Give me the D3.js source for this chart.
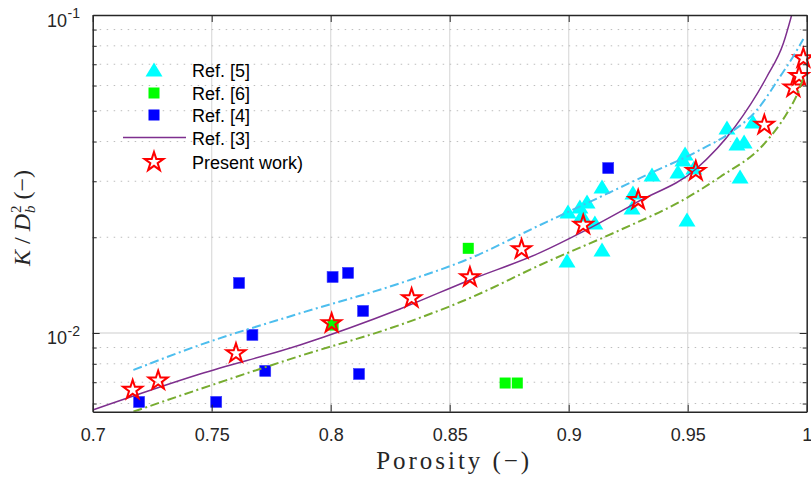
<!DOCTYPE html>
<html lang="en">
<head>
<meta charset="UTF-8">
<title>Permeability versus porosity</title>
<script src="https://d3js.org/d3.v7.min.js"></script>
<style>
  body { margin: 0; background: #fff; }
  svg { display: block; font-family: "Liberation Sans", Arial, sans-serif; }
  .tick text { fill: #262626; font-size: 18px; font-family: "Liberation Sans", Arial, sans-serif; }
  .tick line, .domain { stroke: #262626; }
</style>
</head>
<body>
<svg id="canvas" width="811" height="479"></svg>
<script>
// values: [porosity, K/Db^2]
const ref5 = [
    [0.8993, 0.01684], [0.8997, 0.02401], [0.9047, 0.02489], [0.9077, 0.02582],
    [0.9056, 0.02350], [0.9110, 0.02218], [0.9140, 0.02877], [0.9140, 0.01824],
    [0.9270, 0.02756], [0.9266, 0.02472], [0.9350, 0.03140], [0.9459, 0.03208],
    [0.9489, 0.03656], [0.9480, 0.03500], [0.9497, 0.02266], [0.9526, 0.03302],
    [0.9665, 0.04413], [0.9707, 0.03928], [0.9737, 0.03986], [0.9774, 0.04607],
    [0.9720, 0.03095]
];
const ref6 = [
    [0.8010, 0.01059], [0.8578, 0.01846], [0.8733, 0.00696], [0.8784, 0.00696]
];
const ref4 = [
    [0.7195, 0.00607], [0.7615, 0.01436], [0.7671, 0.00986], [0.7725, 0.00760],
    [0.7519, 0.00607], [0.8008, 0.01500], [0.8073, 0.01545], [0.8136, 0.01173],
    [0.8119, 0.00743], [0.9166, 0.03300]
];
const ref3 = [
    [0.7000, 0.005727], [0.7451, 0.007431], [0.7871, 0.009170], [0.8291, 0.01190],
    [0.8585, 0.01468], [0.8880, 0.01789], [0.9060, 0.02083], [0.9291, 0.02587],
    [0.9535, 0.03280], [0.9699, 0.04454], [0.9832, 0.06383], [0.9902, 0.08147],
    [0.9937, 0.1]
];
const present = [
    [0.7168, 0.00662], [0.7275, 0.00708], [0.7602, 0.00863], [0.8004, 0.01073],
    [0.8340, 0.01286], [0.8585, 0.01497], [0.8802, 0.01834], [0.9061, 0.02187],
    [0.9292, 0.02619], [0.9534, 0.03230], [0.9822, 0.04510], [0.9944, 0.05910],
    [0.9968, 0.06430], [0.9986, 0.07310]
];
// dash-dot bounds (not in legend)
const upperBound = [
    [0.7171, 0.007650], [0.7451, 0.009170], [0.7871, 0.01153], [0.8291, 0.01433],
    [0.8585, 0.01717], [0.8880, 0.02186], [0.9132, 0.02677], [0.9342, 0.03177],
    [0.9551, 0.03761], [0.9690, 0.04317], [0.9791, 0.05026], [0.9887, 0.06383],
    [0.9942, 0.07377], [0.9986, 0.08406]
];
const lowerBound = [
    [0.7171, 0.005656], [0.7451, 0.006667], [0.7871, 0.008468], [0.8291, 0.01060],
    [0.8585, 0.01288], [0.8880, 0.01636], [0.9216, 0.02108], [0.9481, 0.02620],
    [0.9636, 0.03095], [0.9817, 0.03902], [0.9888, 0.04542], [0.9930, 0.05099],
    [0.9959, 0.05603], [0.9985, 0.06323]
];

const xTicks = [0.7, 0.75, 0.8, 0.85, 0.9, 0.95, 1];
const xTickLabels = ["0.7", "0.75", "0.8", "0.85", "0.9", "0.95", "1"];
const yTicks = [0.01, 0.1];
const yTickExps = ["-2", "-1"];
const yMinor = [0.006, 0.007, 0.008, 0.009, 0.02, 0.03, 0.04, 0.05, 0.06, 0.07, 0.08, 0.09];
const legendNames = ["Ref. [5]", "Ref. [6]", "Ref. [4]", "Ref. [3]", "Present work)"];

const svg = d3.select("#canvas");
const pLeft = 92.7, pRight = 806.7, pTop = 15, pBottom = 411.7;

const x = d3.scaleLinear().domain([0.7, 1]).range([pLeft, pRight]);
const y = d3.scaleLog().domain([0.005655, 0.1]).range([pBottom, pTop]);

svg.append("defs").append("clipPath").attr("id", "plotClip")
    .append("rect").attr("x", pLeft).attr("y", pTop)
    .attr("width", pRight - pLeft).attr("height", pBottom - pTop);

// grid
const grid = svg.append("g");
grid.selectAll(".vg").data(xTicks.slice(1, -1)).enter().append("line")
    .attr("x1", d => x(d)).attr("x2", d => x(d))
    .attr("y1", pTop).attr("y2", pBottom)
    .attr("stroke", "#dedede").attr("stroke-width", 1.3);
grid.append("line")
    .attr("x1", pLeft).attr("x2", pRight).attr("y1", y(0.01)).attr("y2", y(0.01))
    .attr("stroke", "#dedede").attr("stroke-width", 1.3);
grid.selectAll(".hg").data(yMinor).enter().append("line")
    .attr("x1", pLeft).attr("x2", pRight)
    .attr("y1", d => y(d)).attr("y2", d => y(d))
    .attr("stroke", "#bdbdbd").attr("stroke-width", 1)
    .attr("stroke-dasharray", "1.5,5.5");

// marker shapes
function starPath(R) {
    const r = R * 0.382;
    let p = [];
    for (let i = 0; i < 10; i++) {
        const a = -Math.PI / 2 + i * Math.PI / 5;
        const rr = i % 2 === 0 ? R : r;
        p.push([rr * Math.cos(a), rr * Math.sin(a)]);
    }
    return "M" + p.map(d => d.join(",")).join("L") + "Z";
}
const triPath = "M0,-7.5L8.5,6.5L-8.5,6.5Z";

const plot = svg.append("g");

plot.selectAll(".tri").data(ref5).enter().append("path")
    .attr("d", triPath)
    .attr("transform", d => `translate(${x(d[0])},${y(d[1])})`)
    .attr("fill", "#00ffff");

plot.selectAll(".sq6").data(ref6).enter().append("rect")
    .attr("x", d => x(d[0]) - 5.5).attr("y", d => y(d[1]) - 5.5)
    .attr("width", 11).attr("height", 11)
    .attr("fill", "#00ff00");

plot.selectAll(".sq4").data(ref4).enter().append("rect")
    .attr("x", d => x(d[0]) - 5.5).attr("y", d => y(d[1]) - 5.5)
    .attr("width", 11).attr("height", 11)
    .attr("fill", "#0000ff").attr("stroke", "#3a3aff").attr("stroke-width", 0.6);

const line = d3.line().x(d => x(d[0])).y(d => y(d[1])).curve(d3.curveMonotoneX);

const lines = svg.append("g").attr("clip-path", "url(#plotClip)");
lines.append("path").datum(ref3).attr("d", line)
    .attr("fill", "none").attr("stroke", "#7e2f8e").attr("stroke-width", 1.5);

svg.selectAll(".star").data(present).enter().append("path")
    .attr("d", starPath(10))
    .attr("transform", d => `translate(${x(d[0])},${y(d[1])})`)
    .attr("fill", "none").attr("stroke", "#ff0000").attr("stroke-width", 2)
    .attr("stroke-linejoin", "miter");

const lines2 = svg.append("g").attr("clip-path", "url(#plotClip)");
lines2.append("path").datum(upperBound).attr("d", line)
    .attr("fill", "none").attr("stroke", "#4dbeee").attr("stroke-width", 2)
    .attr("stroke-dasharray", "9,3.5,2,3.5");
lines2.append("path").datum(lowerBound).attr("d", line)
    .attr("fill", "none").attr("stroke", "#77ac30").attr("stroke-width", 2)
    .attr("stroke-dasharray", "9,3.5,2,3.5");

// axes, MATLAB style with inward ticks on all four sides
svg.append("g").attr("transform", `translate(0,${pBottom})`)
    .call(d3.axisBottom(x).tickValues(xTicks).tickSize(-7).tickSizeOuter(0).tickPadding(16.5)
        .tickFormat((d, i) => xTickLabels[i]));
svg.append("g").attr("transform", `translate(0,${pTop})`)
    .call(d3.axisTop(x).tickValues(xTicks).tickSize(-7).tickSizeOuter(0).tickFormat(""));

svg.append("g").attr("transform", `translate(${pLeft},0)`)
    .call(d3.axisLeft(y).tickValues(yTicks).tickSize(-7).tickSizeOuter(0).tickFormat(""));
svg.append("g").attr("transform", `translate(${pLeft},0)`)
    .call(d3.axisLeft(y).tickValues(yMinor).tickSize(-4).tickSizeOuter(0).tickFormat(""))
    .select(".domain").remove();
svg.append("g").attr("transform", `translate(${pRight},0)`)
    .call(d3.axisRight(y).tickValues(yTicks).tickSize(-7).tickSizeOuter(0).tickFormat(""));
svg.append("g").attr("transform", `translate(${pRight},0)`)
    .call(d3.axisRight(y).tickValues(yMinor).tickSize(-4).tickSizeOuter(0).tickFormat(""))
    .select(".domain").remove();
svg.selectAll(".domain").attr("stroke-width", 1.5);

yTicks.forEach((v, i) => {
    svg.append("text").attr("fill", "#262626")
        .attr("x", 67).attr("y", y(v) + 11.5).attr("text-anchor", "end")
        .attr("font-size", 18).text("10");
    svg.append("text").attr("fill", "#262626")
        .attr("x", 67.5).attr("y", y(v) + 3).attr("font-size", 14)
        .text(yTickExps[i]);
});

// axis titles
svg.append("text")
    .attr("x", (pLeft + pRight) / 2 + 3).attr("y", 469)
    .attr("text-anchor", "middle")
    .attr("font-family", "'Liberation Serif', 'Times New Roman', serif")
    .attr("font-size", 25).attr("fill", "#262626")
    .attr("textLength", 153).attr("lengthAdjust", "spacing")
    .text("Porosity (\u2212)");

const ylab = svg.append("text")
    .attr("transform", "translate(30,218) rotate(-90)")
    .attr("text-anchor", "middle")
    .attr("font-family", "'Liberation Serif', 'Times New Roman', serif")
    .attr("font-size", 24).attr("fill", "#262626");
ylab.append("tspan").attr("font-style", "italic").text("K");
ylab.append("tspan").text(" / ");
ylab.append("tspan").attr("font-style", "italic").text("D");
ylab.append("tspan").attr("font-size", 15).attr("dy", -9).attr("dx", 1).text("2");
ylab.append("tspan").attr("font-size", 15).attr("font-style", "italic")
    .attr("dy", 14).attr("dx", -7.5).text("b");
ylab.append("tspan").attr("dy", -5).text(" (\u2212)");

// legend
const legendY = [70, 93, 115, 137.5, 162];
const lg = svg.append("g");
lg.append("path").attr("d", triPath).attr("transform", `translate(154,${legendY[0]})`).attr("fill", "#00ffff");
lg.append("rect").attr("x", 148.5).attr("y", legendY[1] - 5.5).attr("width", 11).attr("height", 11).attr("fill", "#00ff00");
lg.append("rect").attr("x", 148.5).attr("y", legendY[2] - 5.5).attr("width", 11).attr("height", 11).attr("fill", "#0000ff");
lg.append("line").attr("x1", 123).attr("x2", 186).attr("y1", legendY[3]).attr("y2", legendY[3])
    .attr("stroke", "#7e2f8e").attr("stroke-width", 1.5);
lg.append("path").attr("d", starPath(10)).attr("transform", `translate(154,${legendY[4]})`)
    .attr("fill", "none").attr("stroke", "#ff0000").attr("stroke-width", 2);
lg.selectAll(".lt").data(legendNames).enter().append("text")
    .attr("x", 192).attr("y", (d, i) => legendY[i] + 7)
    .attr("font-size", 18).attr("fill", "#000")
    .text(d => d);
</script>
</body>
</html>
